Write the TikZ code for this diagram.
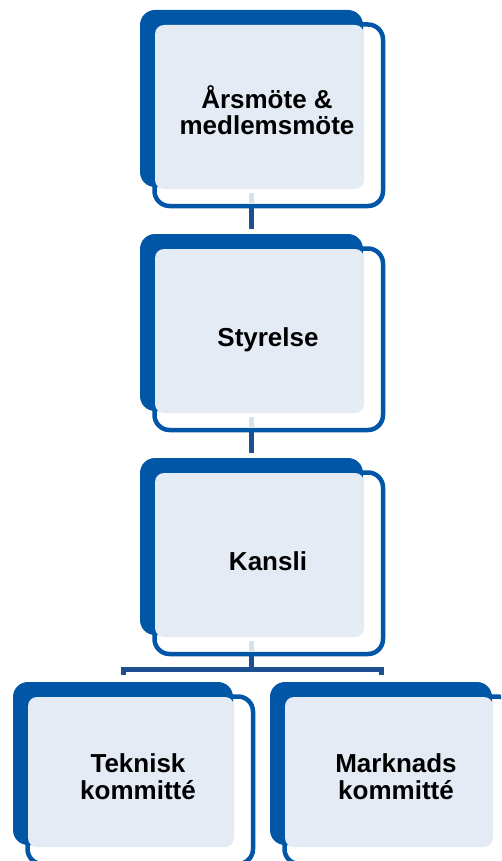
\documentclass[tikz,border=0pt]{standalone}
\usepackage{fontspec}
\setmainfont{Liberation Sans}
\usetikzlibrary{calc}
\definecolor{darkb}{RGB}{2,86,166}
\definecolor{lightb}{RGB}{228,235,245}
\definecolor{connb}{RGB}{28,80,145}
\definecolor{stripb}{RGB}{214,225,240}
\newcommand\orgunit[5]{%
  \node[olbox, minimum width=#4pt+5.5pt, minimum height=#5pt+4.5pt] (#1o) at (#2+12.25,#3+12.25) {};
  \node[dkbox, minimum width=#4pt, minimum height=#5pt] (#1d) at (#2,#3) {};
  \node[ltbox, minimum width=#4pt-14pt, minimum height=#5pt-13pt] (#1l) at (#2+15,#3+15) {};
}
\begin{document}
\begin{tikzpicture}[x=1pt,y=-1pt,
  olbox/.style={draw=darkb, fill=white, line width=4.5pt, rounded corners=15pt, inner sep=0pt, anchor=north west, rectangle},
  dkbox/.style={fill=darkb, rounded corners=15pt, inner sep=0pt, outer sep=0pt, anchor=north west, rectangle},
  ltbox/.style={fill=lightb, rounded corners=9pt, inner sep=0pt, outer sep=0pt, anchor=north west, rectangle},
  txt/.style={font=\fontsize{26pt}{26pt}\selectfont\bfseries, align=center, inner sep=0pt},
  conn/.style={draw=connb, line width=5pt},
  stripline/.style={draw=stripb, line width=5pt}]
\useasboundingbox (0,0) rectangle (501,861);
\clip (0,0) rectangle (501,861);
\fill[white] (0,0) rectangle (501,861);

\orgunit{a}{140}{10}{223}{177}
\orgunit{b}{140}{234}{223}{177}
\orgunit{c}{140}{458}{223}{177}
\orgunit{d}{13}{682}{220}{163}
\orgunit{e}{270}{682}{222}{163}

\node[txt] (ta) at (267,110.5) {Årsmöte \&\\medlemsmöte};
\node[txt, anchor=base] (tb) at (268,346) {Styrelse};
\node[txt, anchor=base] (tc) at (268,570) {Kansli};
\node[txt, font=\fontsize{26pt}{27pt}\selectfont\bfseries] (td) at (138,777) {Teknisk\\kommitté};
\node[txt, font=\fontsize{26pt}{27pt}\selectfont\bfseries] (te) at (396,777) {Marknads\\kommitté};

% light strips inside the outline boxes
\draw[stripline] ($(ad.south)+(0,6)$) -- ($(ao.south -| ad.south)+(0,-5)$);
\draw[stripline] ($(bd.south)+(0,6)$) -- ($(bo.south -| bd.south)+(0,-5)$);
\draw[stripline] ($(cd.south)+(0,6)$) -- ($(co.south -| cd.south)+(0,-5)$);

% connectors
\coordinate (a2) at ($(bd.north)+(0,-5)$);
\coordinate (b2) at ($(cd.north)+(0,-5)$);
\draw[conn] (ao.south -| ad.south) -- (a2);
\draw[conn] (bo.south -| bd.south) -- (b2);
\coordinate (j) at ($(co.south -| cd.south)+(0,13)$);
\coordinate (d2) at ($(dd.north)+(0,-7)$);
\coordinate (e2) at ($(ed.north)+(0,-7)$);
\draw[conn] (co.south -| cd.south) -- (j);
\draw[conn] (d2) -- (d2 |- j) -- (e2 |- j) -- (e2);
\end{tikzpicture}
\end{document}
